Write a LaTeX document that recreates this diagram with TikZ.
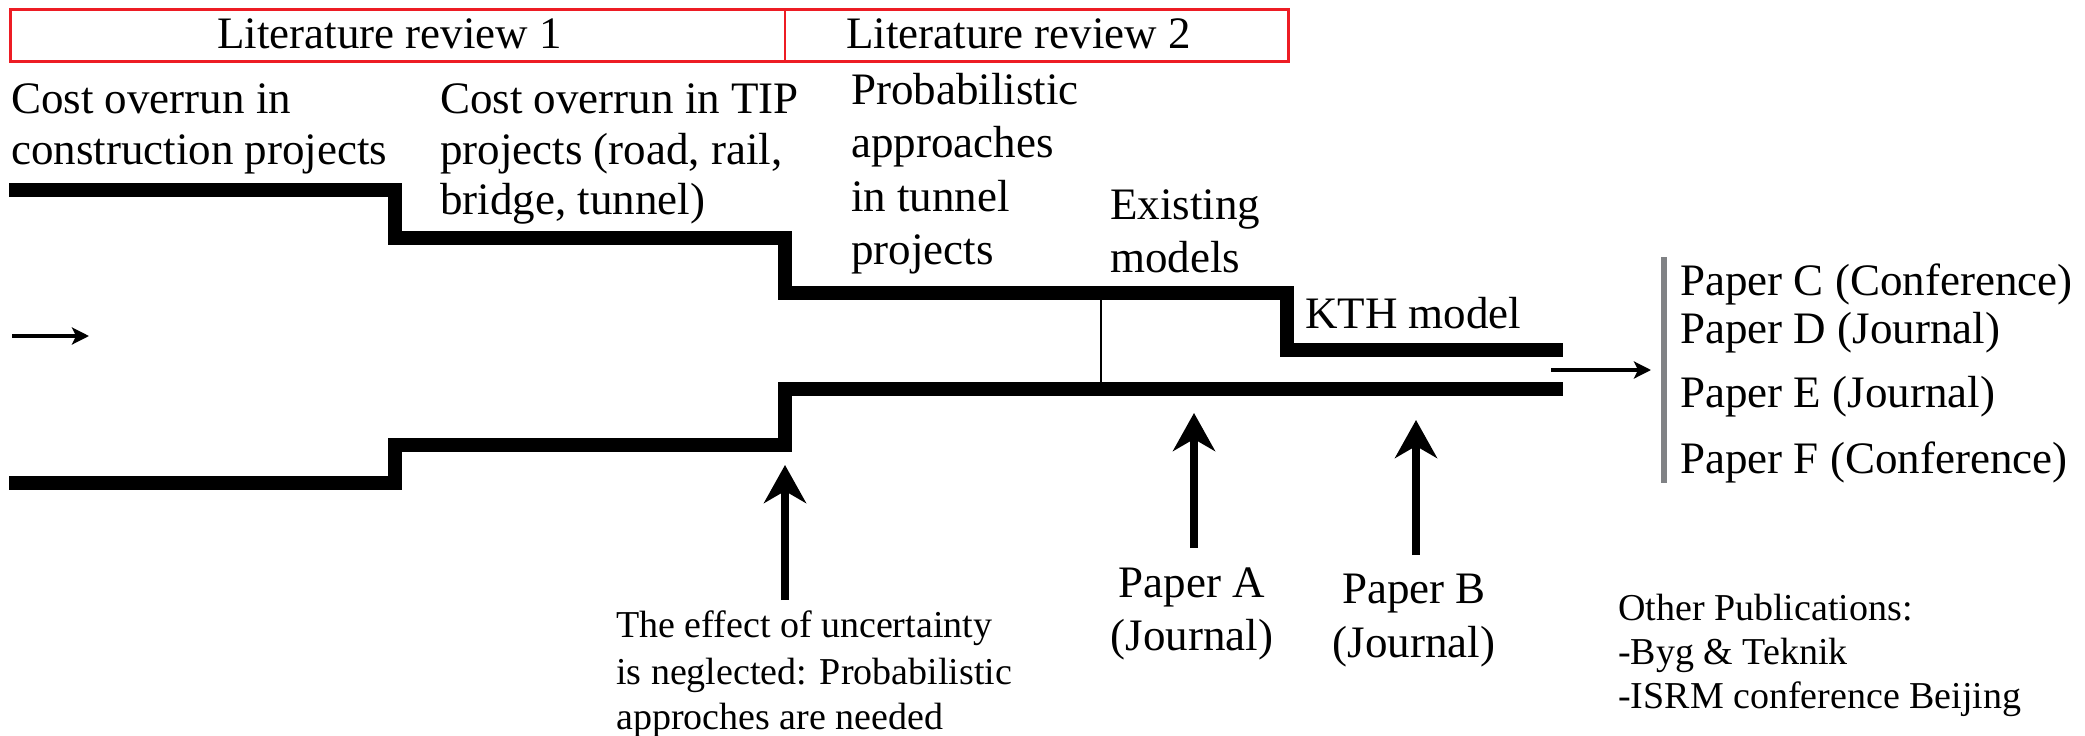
\documentclass[tikz,border=0pt]{standalone}
\usepackage{fontspec}
\setmainfont{Liberation Serif}
\usetikzlibrary{arrows.meta}
\definecolor{boxred}{HTML}{ED1C24}
\definecolor{bargray}{HTML}{808285}
\begin{document}
\begin{tikzpicture}[x=1pt,y=-1pt,
  txt/.style={inner sep=0pt, anchor=base west, font=\fontsize{45}{54}\selectfont},
  txtc/.style={txt, anchor=base},
  small/.style={inner sep=0pt, anchor=base west, font=\fontsize{38}{46}\selectfont},
  flow/.style={line width=14pt, line join=miter, line cap=butt},
  uparrow/.style={line width=8pt, -{Stealth[length=38pt,width=42pt,inset=12pt]}},
  thinarrow/.style={line width=3.5pt, -{Stealth[length=17pt,width=17pt,inset=4pt]}},
]
\useasboundingbox (0,0) rectangle (2085,736);
% literature review boxes
\draw[boxred, line width=3pt] (10,9) rectangle (1288,61);
\draw[boxred, line width=2.5pt] (785,9) -- (785,61);
\node[txt] (lr1) at (217,48) {Literature review 1};
\node[txt] (lr2) at (846,48) {Literature review 2};
% labels
\node[txt] (c1a) at (11,113) {Cost overrun in};
\node[txt] (c1b) at (11,164) {construction projects};
\node[txt] (c2a) at (440,113) {Cost overrun in TIP};
\node[txt] (c2b) at (440,164) {projects (road, rail,};
\node[txt] (c2c) at (440,214) {bridge, tunnel)};
\node[txt] (p1) at (851,104) {Probabilistic};
\node[txt] (p2) at (851,157) {approaches};
\node[txt] (p3) at (851,211) {in tunnel};
\node[txt] (p4) at (851,264) {projects};
\node[txt] (e1) at (1110,219) {Existing};
\node[txt] (e2) at (1110,272) {models};
\node[txt] (kth) at (1305,328) {KTH model};
\node[txt] (pc) at (1680,295) {Paper C (Conference)};
\node[txt] (pd) at (1680,343) {Paper D (Journal)};
\node[txt] (pe) at (1680,407) {Paper E (Journal)};
\node[txt] (pf) at (1680,473) {Paper F (Conference)};
\node[txtc] (pa1) at (1192,597) {Paper A};
\node[txtc] (pa2) at (1192,650) {(Journal)};
\node[txtc] (pb1) at (1414,603) {Paper B};
\node[txtc] (pb2) at (1414,657) {(Journal)};
\node[small] (u1) at (616,637) {The effect of uncertainty};
\node[small] (u2) at (616,684) {is neglected: Probabilistic};
\node[small] (u3) at (616,729) {approches are needed};
\node[small] (o1) at (1618,620) {Other Publications:};
\node[small] (o2) at (1618,664) {-Byg \& Teknik};
\node[small] (o3) at (1618,708) {-ISRM conference Beijing};
% funnel lines
\draw[flow] (9,190) -- (395,190) -- (395,238) -- (785,238) -- (785,293)
  -- (1287,293) -- (1287,350) -- (1563,350);
\draw[flow] (9,483) -- (395,483) -- (395,445) -- (785,445) -- (785,389) -- (1563,389);
\draw[line width=2.5pt] (1101,293) -- (1101,389);
% gray bar
\draw[bargray, line width=6pt] (1664,257) -- (1664,483);
% arrows
\coordinate (inS) at (12,336);
\coordinate (inE) at (89,336);
\draw[thinarrow] (inS) -- (inE);
\coordinate (outS) at (1551,370);
\coordinate (outE) at (1651,370);
\draw[thinarrow] (outS) -- (outE);
\coordinate (a1s) at (785,600);
\coordinate (a1e) at (785,465);
\draw[uparrow] (a1s) -- (a1e);
\coordinate (aAs) at (1194,548);
\coordinate (aAe) at (1194,413);
\draw[uparrow] (aAs) -- (aAe);
\coordinate (aBs) at (1416,555);
\coordinate (aBe) at (1416,420);
\draw[uparrow] (aBs) -- (aBe);
\end{tikzpicture}
\end{document}
